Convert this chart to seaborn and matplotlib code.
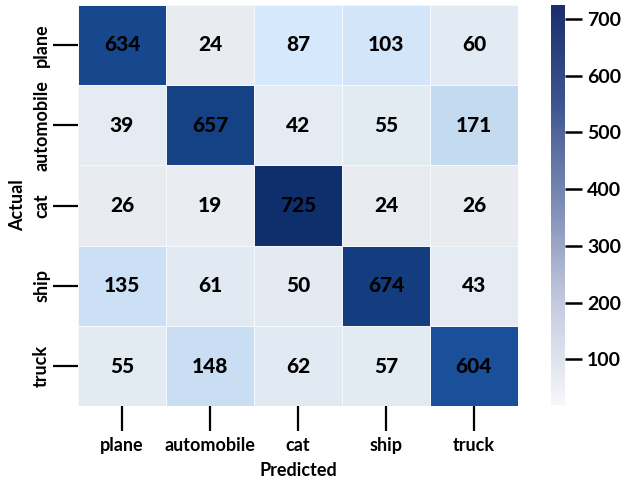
import matplotlib
matplotlib.use("Agg")
import matplotlib.pyplot as plt
import numpy as np
import seaborn as sns
from matplotlib.colors import LinearSegmentedColormap, Normalize
from matplotlib.cm import ScalarMappable

# 类别与混淆矩阵数据
classes = ["plane", "automobile", "cat", "ship", "truck"]
cm_values = [
    [634, 24, 87, 103, 60],
    [39, 657, 42, 55, 171],
    [26, 19, 725, 24, 26],
    [135, 61, 50, 674, 43],
    [55, 148, 62, 57, 604],
]
cbar_ticks = [100, 200, 300, 400, 500, 600, 700]

plt.rcParams["font.family"] = ["Lato", "DejaVu Sans"]
plt.rcParams["font.weight"] = "bold"

# 单元格配色（浅灰蓝 -> 深蓝），色条配色（近白 -> 藏青）
cell_cmap = LinearSegmentedColormap.from_list(
    "cells", [(0.0, "#e9ecf1"), (0.07, "#e0e9f3"), (0.095, "#d6e8fb"),
              (0.22, "#c3d9ef"), (0.8, "#1b56a1"), (1.0, "#0f2f6c")])
bar_cmap = LinearSegmentedColormap.from_list(
    "bar", ["#f6f7fa", "#c5cbe0", "#7f8db5", "#3e5690", "#1a2d6c"])
vmin, vmax = 19, 725

fig = plt.figure(figsize=(6.24, 4.83), dpi=100)
ax = fig.add_axes([0.125, 0.159, 0.705, 0.831])
cax = fig.add_axes([0.883, 0.161, 0.022, 0.829])

data = np.array(cm_values)
sns.heatmap(data, ax=ax, cmap=cell_cmap, vmin=vmin, vmax=vmax, cbar=False,
            annot=True, fmt="d", linewidths=0.6, linecolor="#f4f7fb",
            xticklabels=classes, yticklabels=classes,
            annot_kws={"fontsize": 15, "fontweight": "black", "color": "black"})

ax.tick_params(axis="both", length=18, width=1.6, color="black",
               labelsize=13)
ax.tick_params(axis="x", pad=4)
ax.tick_params(axis="y", pad=2)
ax.set_yticklabels(classes, rotation=90, va="center", fontweight="bold")
ax.set_xticklabels(classes, rotation=0, fontweight="bold")
ax.set_xlabel("Predicted", fontsize=13, fontweight="bold", labelpad=6)
ax.set_ylabel("Actual", fontsize=13, fontweight="bold", labelpad=5)

cb = fig.colorbar(ScalarMappable(norm=Normalize(vmin, vmax), cmap=bar_cmap),
                  cax=cax, ticks=cbar_ticks)
cb.outline.set_visible(False)
cax.tick_params(length=12, width=1.8, labelsize=14, pad=4)
for t in cax.get_yticklabels():
    t.set_fontweight("bold")

fig.savefig("out.png", dpi=100)
